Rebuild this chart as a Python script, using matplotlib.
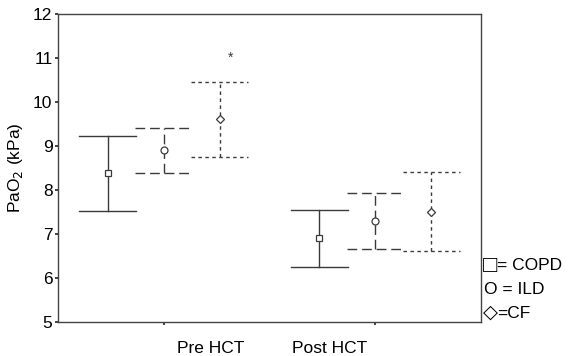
import numpy as np
import matplotlib.pyplot as plt

plt.rcParams['font.family'] = ['Liberation Sans', 'DejaVu Sans']

periods = ['Pre HCT', 'Post HCT']
groups = ['COPD', 'ILD', 'CF']
means = {'COPD': [8.39, 6.90], 'ILD': [8.91, 7.30], 'CF': [9.61, 7.51]}
upper = {'COPD': [9.23, 7.55], 'ILD': [9.42, 7.94], 'CF': [10.46, 8.40]}
lower = {'COPD': [7.52, 6.26], 'ILD': [8.38, 6.66], 'CF': [8.76, 6.61]}
markers = {'COPD': 's', 'ILD': 'o', 'CF': 'D'}
styles = {'COPD': '-', 'ILD': (0, (7, 3.5)), 'CF': (0, (2.5, 2.5))}
offsets = {'COPD': -0.265, 'ILD': 0.0, 'CF': 0.265}
msize = {'COPD': 4, 'ILD': 5, 'CF': 4}

col = '#3a3a3a'
fs = 12.5
fig = plt.figure(figsize=(5.81, 3.56), dpi=100)
ax = fig.add_axes([0.0998, 0.0955, 0.7282, 0.8652])

xs = np.arange(1, len(periods) + 1)
hw = 0.135
for g in groups:
    for i, x in enumerate(xs):
        xc = x + offsets[g]
        ax.plot([xc, xc], [lower[g][i], upper[g][i]], color=col, lw=1, linestyle=styles[g])
        for yv in (lower[g][i], upper[g][i]):
            ax.plot([xc - hw, xc + hw], [yv, yv], color=col, lw=1, linestyle=styles[g])
        ax.plot(xc, means[g][i], marker=markers[g], ms=msize[g], mfc='white',
                mec=col, mew=0.9, linestyle='none', zorder=3)

# significance marker above CF pre
ax.text(xs[0] + offsets['CF'] + 0.05, 11.0, '*', ha='center', va='center', fontsize=10, color=col)

ax.set_xlim(0.5, 2.5)
ax.set_ylim(5, 12)
ax.set_yticks(range(5, 13))
ax.set_xticks(xs)
ax.set_xticklabels(['', ''])
ax.tick_params(axis='both', length=2, width=1.2, color='#222222', labelsize=fs, pad=2)
for sp in ax.spines.values():
    sp.set_color('#444444')
    sp.set_linewidth(1)
ax.set_ylabel('PaO$_2$ (kPa)', fontsize=fs, labelpad=6)

# category labels (offset from ticks as in original)
label_x = [1.223, 1.786]
for lx, name in zip(label_x, periods):
    ax.text(lx, -0.085, name, transform=ax.get_xaxis_transform(), ha='center',
            va='center', fontsize=fs)

# legend text
fig.text(483 / 581, 1 - 266 / 356, '\u25a1', fontsize=17, va='center', ha='left')
fig.text(497 / 581, 1 - 266 / 356, '= COPD', fontsize=fs, va='center', ha='left')
fig.text(484 / 581, 1 - 290 / 356, 'O = ILD', fontsize=fs, va='center', ha='left')
fig.text(483 / 581, 1 - 313 / 356, '\u25c7', fontsize=14, va='center', ha='left')
fig.text(497 / 581, 1 - 313 / 356, '=CF', fontsize=fs, va='center', ha='left')

fig.savefig('out.png', dpi=100)
